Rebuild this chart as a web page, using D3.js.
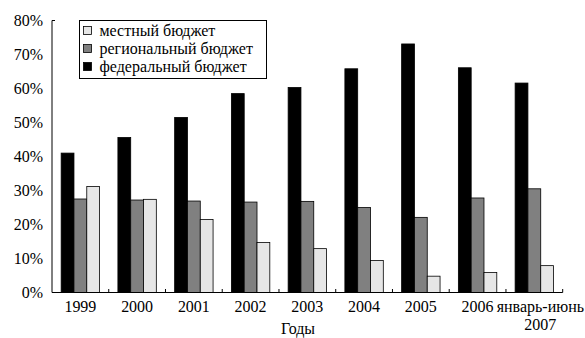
<!DOCTYPE html>
<html>
<head>
<meta charset="utf-8">
<script src="https://cdn.jsdelivr.net/npm/d3@7"></script>
</head>
<body style="margin:0">
<svg id="chart" width="585" height="338"></svg>
<script>
// Categories (years) and the share of each budget level
const categories = ["1999", "2000", "2001", "2002", "2003", "2004", "2005", "2006", "январь-июнь\n2007"];
const seriesNames = ["федеральный бюджет", "региональный бюджет", "местный бюджет"];
const federal  = [0.41, 0.456, 0.515, 0.585, 0.603, 0.658, 0.731, 0.661, 0.616];
const regional = [0.275, 0.272, 0.269, 0.266, 0.268, 0.25, 0.221, 0.278, 0.305];
const local    = [0.312, 0.274, 0.215, 0.147, 0.129, 0.094, 0.048, 0.059, 0.079];
const yTicks = [0, 0.1, 0.2, 0.3, 0.4, 0.5, 0.6, 0.7, 0.8];
const legendOrder = ["местный бюджет", "региональный бюджет", "федеральный бюджет"];
const xTitle = "Годы";

const values = [federal, regional, local];
const colors = { "федеральный бюджет": "#000000", "региональный бюджет": "#808080", "местный бюджет": "#e6e6e6" };

const svg = d3.select("#chart");
const plot = { left: 52, right: 562.7, top: 20.5, bottom: 292.5 };
const FONT = "'Liberation Serif', monospace";
const BASE = 18;          // text is set at this size
const K = 16 / BASE;      // and scaled down to 16px

// Place a text label at (px, py) with the given anchor
function label(parent, px, py, str, anchor) {
  return parent.append("g")
    .attr("transform", `translate(${px},${py}) scale(${K})`)
    .append("text")
    .attr("text-anchor", anchor || "start")
    .attr("font-family", FONT)
    .attr("font-size", BASE)
    .text(str);
}

const x = d3.scaleBand().domain(categories).range([plot.left, plot.right])
  .paddingInner(0.323).paddingOuter(0.1615);
const xs = d3.scaleBand().domain(seriesNames).range([0, x.bandwidth()]).padding(0);
const y = d3.scaleLinear().domain([0, 0.8]).range([plot.bottom, plot.top]);

// Bars
const groups = svg.append("g").selectAll("g").data(categories).join("g")
  .attr("transform", d => `translate(${x(d)},0)`);
groups.selectAll("rect")
  .data((c, i) => seriesNames.map((s, k) => ({ s, v: values[k][i] })))
  .join("rect")
  .attr("x", d => xs(d.s))
  .attr("y", d => y(d.v))
  .attr("width", xs.bandwidth())
  .attr("height", d => plot.bottom - y(d.v))
  .attr("fill", d => colors[d.s])
  .attr("stroke", "#000")
  .attr("stroke-width", 0.8);

// Y axis: line with a short hook at the top, labels at 10% steps
const yAxis = svg.append("g");
yAxis.append("path")
  .attr("d", `M${plot.left + 3},${plot.top} H${plot.left} V${plot.bottom}`)
  .attr("fill", "none").attr("stroke", "#000").attr("stroke-width", 1);
yTicks.forEach(t => label(yAxis, plot.left - 9, y(t) + 5.5, d3.format(".0%")(t), "end"));

// X axis: baseline with inward ticks at category boundaries
const xAxis = svg.append("g");
xAxis.append("line")
  .attr("x1", plot.left).attr("x2", plot.right)
  .attr("y1", plot.bottom).attr("y2", plot.bottom)
  .attr("stroke", "#000").attr("stroke-width", 1);
const bounds = categories.map(c => x(c) - x.step() * x.paddingOuter()).slice(1).concat([plot.right]);
xAxis.selectAll("line.tick").data(bounds).join("line")
  .attr("class", "tick")
  .attr("x1", d => d).attr("x2", d => d)
  .attr("y1", plot.bottom).attr("y2", plot.bottom - 3.5)
  .attr("stroke", "#000").attr("stroke-width", 1);
categories.forEach(c => {
  const lines = c.split("\n");
  const cx = x(c) + x.bandwidth() / 2 + (lines.length > 1 ? 6 : 0);
  lines.forEach((l, i) => label(xAxis, cx, 312 + i * 17.5, l, "middle"));
});

label(svg, 298, 334, xTitle, "middle");

// Legend
const legend = svg.append("g");
legend.append("rect")
  .attr("x", 79.5).attr("y", 20.5).attr("width", 187).attr("height", 58)
  .attr("fill", "#fff").attr("stroke", "#000").attr("stroke-width", 1);
legendOrder.forEach((name, i) => {
  const ty = 26.5 + i * 18;
  legend.append("rect")
    .attr("x", 83.5).attr("y", ty)
    .attr("width", 8).attr("height", 8)
    .attr("fill", colors[name]).attr("stroke", "#000").attr("stroke-width", 0.8);
  label(legend, 99.5, ty + 9.5, name, "start");
});
</script>
</body>
</html>
